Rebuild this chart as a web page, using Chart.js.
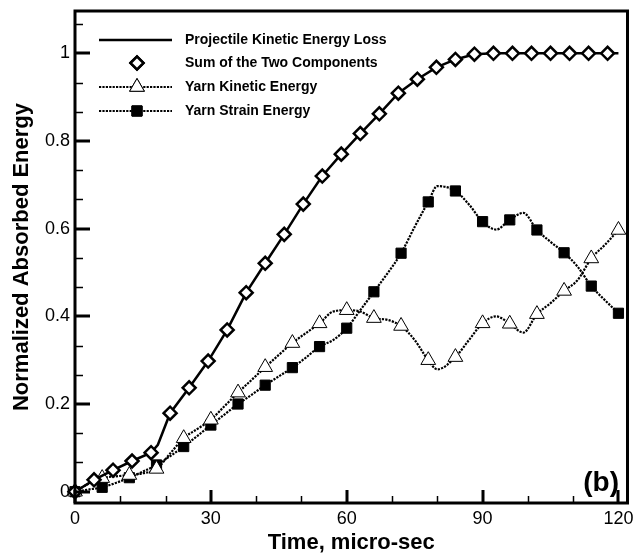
<!DOCTYPE html>
<html><head><meta charset="utf-8">
<script src="https://cdn.jsdelivr.net/npm/chart.js@4.4.1/dist/chart.umd.min.js"></script>
<style>html,body{margin:0;padding:0;background:#fff}#wrap{width:637px;height:556px;position:relative}</style>
</head><body><div id="wrap"><canvas id="c"></canvas></div>
<script>
const seriesNames = ['Projectile Kinetic Energy Loss','Sum of the Two Components','Yarn Kinetic Energy','Yarn Strain Energy'];
const xTitle = 'Time, micro-sec';
const yTitle = 'Normalized Absorbed Energy';
const panelLabel = '(b)';
const xTickValues = [0,30,60,90,120];
const xTickLabels = ['0','30','60','90','120'];
const yTickValues = [0,0.2,0.4,0.6,0.8,1];
const yTickLabels = ['0','0.2','0.4','0.6','0.8','1'];

const lossTime = [0,4.2,8.4,12.6,16.8,18.3,21,25.2,29.4,33.6,37.8,42,46.2,50.4,54.6,58.8,63,67.2,71.4,75.6,79.8,84,88.2,92.4,96.6,100.8,105,109.2,113.4,117.6,120];
const lossValues = [0,0.027,0.049,0.070,0.089,0.107,0.179,0.237,0.298,0.369,0.454,0.521,0.587,0.656,0.720,0.770,0.817,0.862,0.909,0.941,0.968,0.986,0.998,1,1,1,1,1,1,1,1];

const sumTime = [0,4.2,8.4,12.6,16.8,21,25.2,29.4,33.6,37.8,42,46.2,50.4,54.6,58.8,63,67.2,71.4,75.6,79.8,84,88.2,92.4,96.6,100.8,105,109.2,113.4,117.6];
const sumValues = [0,0.027,0.049,0.070,0.089,0.179,0.237,0.298,0.369,0.454,0.521,0.587,0.656,0.720,0.770,0.817,0.862,0.909,0.941,0.968,0.986,0.998,1,1,1,1,1,1,1];

const yarnTime = [0,3,6,9,12,15,18,21,24,27,30,33,36,39,42,45,48,51,54,57,60,63,66,69,72,75,78,80,84,87,90,93,96,99,102,105,108,111,114,117,120];
const yarnKinetic = [0,0.018,0.031,0.035,0.038,0.042,0.052,0.087,0.122,0.143,0.164,0.195,0.226,0.255,0.284,0.312,0.339,0.362,0.384,0.411,0.414,0.411,0.396,0.392,0.378,0.346,0.300,0.279,0.307,0.346,0.384,0.400,0.383,0.363,0.405,0.430,0.458,0.483,0.532,0.563,0.597];
const yarnStrain = [0,0.005,0.010,0.020,0.032,0.046,0.061,0.081,0.103,0.127,0.152,0.176,0.200,0.221,0.243,0.263,0.283,0.306,0.331,0.346,0.373,0.414,0.456,0.498,0.544,0.604,0.661,0.697,0.686,0.655,0.616,0.598,0.620,0.636,0.597,0.570,0.545,0.513,0.469,0.437,0.407];
const yarnMarkerTimes = [0,6,12,18,24,30,36,42,48,54,60,66,72,78,84,90,96,102,108,114,120];

const FONT = '"Liberation Sans", Arial, sans-serif';
const pts = (xs, ys) => xs.map((x, i) => ({x: x, y: ys[i]}));
const markerOnly = r => c => (c.raw && yarnMarkerTimes.includes(c.raw.x)) ? r : 0;
const DOT = [2.2, 1.2];
const zeroPad = s => { s.paddingTop = 0; s.paddingBottom = 0; s.paddingLeft = 0; s.paddingRight = 0; };

const decor = {
  id: 'decor',
  afterDraw(chart) {
    const {ctx, chartArea: a, scales: {x, y}} = chart;
    ctx.save();
    ctx.strokeStyle = '#000';
    ctx.fillStyle = '#000';
    // minor ticks
    ctx.lineWidth = 1.5;
    ctx.beginPath();
    for (let v = 0; v <= 120.001; v += 10) {
      if (Math.abs(v % 30) < 1e-6) continue;
      const px = Math.round(x.getPixelForValue(v)) + 0.5;
      ctx.moveTo(px, a.bottom); ctx.lineTo(px, a.bottom - 7);
    }
    for (let k = 0; k <= 16; k++) {
      if (k % 3 === 0) continue;
      const v = k * 0.2 / 3;
      const py = Math.round(y.getPixelForValue(v)) + 0.5;
      ctx.moveTo(a.left, py); ctx.lineTo(a.left + 8, py);
    }
    ctx.stroke();
    // major ticks
    ctx.lineWidth = 3;
    ctx.beginPath();
    xTickValues.forEach(v => { const px = Math.round(x.getPixelForValue(v)); ctx.moveTo(px, a.bottom); ctx.lineTo(px, a.bottom - 13); });
    yTickValues.forEach(v => { const py = Math.round(y.getPixelForValue(v)); ctx.moveTo(a.left, py); ctx.lineTo(a.left + 15, py); });
    ctx.stroke();
    // frame
    ctx.lineWidth = 3;
    ctx.strokeRect(a.left, a.top, a.right - a.left, a.bottom - a.top);

    // legend
    const rows = [40, 63, 87, 111];
    const x0 = 99, x1 = 172, xm = 137, tx = 185;
    ctx.setLineDash([]);
    ctx.lineWidth = 2.5;
    ctx.beginPath(); ctx.moveTo(x0, rows[0]); ctx.lineTo(x1, rows[0]); ctx.stroke();
    Chart.helpers.drawPoint(ctx, {pointStyle: 'rectRot', radius: 6.5, borderWidth: 2.5}, xm, rows[1]);
    ctx.fillStyle = '#fff'; ctx.fill(); ctx.stroke();
    ctx.lineWidth = 2.2;
    ctx.setLineDash(DOT);
    [2, 3].forEach(i => { ctx.beginPath(); ctx.moveTo(x0, rows[i]); ctx.lineTo(x1, rows[i]); ctx.stroke(); });
    ctx.setLineDash([]);
    ctx.lineWidth = 1;
    Chart.helpers.drawPoint(ctx, {pointStyle: 'triangle', radius: 8.5, borderWidth: 1}, xm, rows[2]);
    ctx.fillStyle = '#fff'; ctx.fill(); ctx.stroke();
    Chart.helpers.drawPoint(ctx, {pointStyle: 'rect', radius: 7.2, borderWidth: 1}, xm, rows[3]);
    ctx.fillStyle = '#000'; ctx.fill(); ctx.stroke();
    ctx.fillStyle = '#000';
    ctx.font = 'bold 14px ' + FONT;
    ctx.textAlign = 'left';
    ctx.textBaseline = 'middle';
    seriesNames.forEach((t, i) => ctx.fillText(t, tx, rows[i]));
    ctx.font = 'bold 28px ' + FONT;
    ctx.textAlign = 'right';
    ctx.fillText(panelLabel, 619, 483);
    ctx.restore();
  }
};

new Chart(document.getElementById('c'), {
  type: 'line',
  data: {
    datasets: [
      {label: seriesNames[1], data: pts(sumTime, sumValues), showLine: false, pointStyle: 'rectRot', pointRadius: 6.5, pointBorderWidth: 2.5, pointBackgroundColor: '#fff', pointBorderColor: '#000', borderColor: '#000', clip: false},
      {label: seriesNames[0], data: pts(lossTime, lossValues), borderColor: '#000', borderWidth: 2.5, pointRadius: 0, tension: 0, clip: false},
      {label: seriesNames[2], data: pts(yarnTime, yarnKinetic), borderColor: '#000', borderWidth: 2.2, borderDash: DOT, cubicInterpolationMode: 'monotone', pointStyle: 'triangle', pointRadius: markerOnly(8.5), pointBorderWidth: 1, pointBackgroundColor: '#fff', pointBorderColor: '#000', clip: false},
      {label: seriesNames[3], data: pts(yarnTime, yarnStrain), borderColor: '#000', borderWidth: 2.2, borderDash: DOT, cubicInterpolationMode: 'monotone', pointStyle: 'rect', pointRadius: markerOnly(7.2), pointBorderWidth: 1, pointBackgroundColor: '#000', pointBorderColor: '#000', clip: false}
    ]
  },
  options: {
    responsive: true,
    maintainAspectRatio: false,
    animation: false,
    layout: {padding: {top: 11, right: 7, left: 0, bottom: 0}},
    plugins: {legend: {display: false}, tooltip: {enabled: false}},
    elements: {point: {hoverRadius: 0}},
    scales: {
      x: {
        type: 'linear', min: 0, max: 122,
        grid: {display: false, drawTicks: false}, border: {display: false},
        afterBuildTicks: s => { s.ticks = xTickValues.map(v => ({value: v})); },
        ticks: {callback: (v, i) => xTickLabels[i], color: '#000', font: {family: FONT, size: 18}, padding: 5, maxRotation: 0, autoSkip: false},
        title: {display: true, text: xTitle, color: '#000', font: {family: FONT, size: 22, weight: 'bold'}, padding: {top: 0, bottom: 0}},
        afterFit: s => { s.height = 53; zeroPad(s); }
      },
      y: {
        type: 'linear', min: -0.0258, max: 1.0965,
        grid: {display: false, drawTicks: false}, border: {display: false},
        afterBuildTicks: s => { s.ticks = yTickValues.map(v => ({value: v})); },
        ticks: {callback: (v, i) => yTickLabels[i], color: '#000', font: {family: FONT, size: 18}, padding: 5, autoSkip: false},
        title: {display: true, text: yTitle, color: '#000', font: {family: FONT, size: 22, weight: 'bold'}, padding: {top: 9, bottom: 0}},
        afterFit: s => { s.width = 75; zeroPad(s); }
      }
    }
  },
  plugins: [decor]
});
</script>
</body></html>
